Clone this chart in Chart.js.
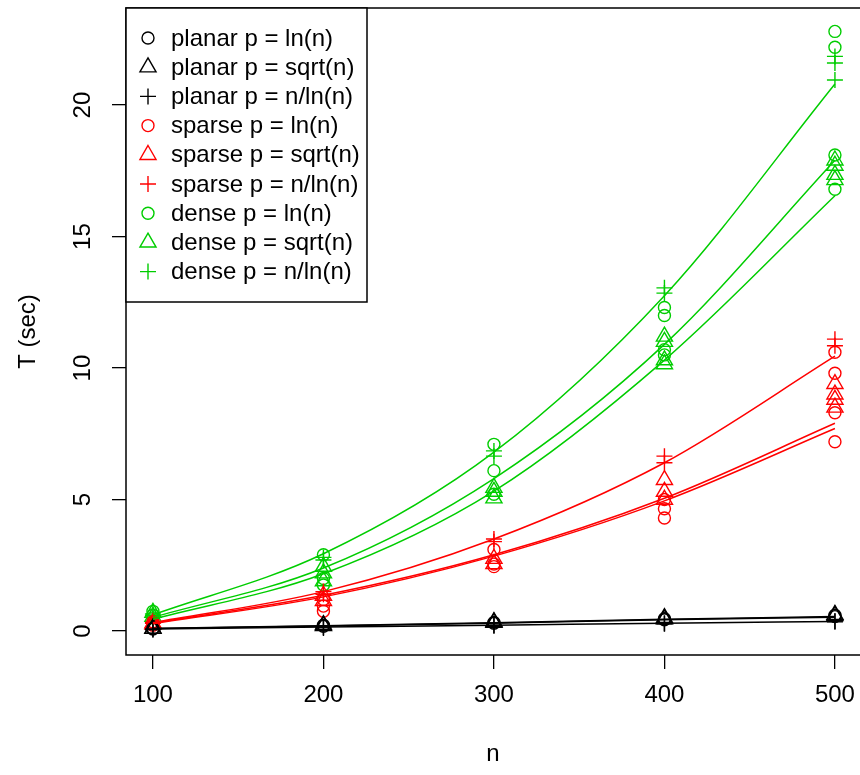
<!DOCTYPE html>
<html>
<head>
<meta charset="utf-8">
<script src="https://cdn.jsdelivr.net/npm/chart.js@4.4.1/dist/chart.umd.min.js"></script>
<style>
  html, body { margin: 0; padding: 0; background: #fff; overflow: hidden; }
  #wrap { width: 860px; height: 775px; }
</style>
</head>
<body>
<div id="wrap"><canvas id="timeChart" width="860" height="775"></canvas></div>
<script>
// problem size n and axis ticks
const nValues = [100, 200, 300, 400, 500];
const xTicks = [100, 200, 300, 400, 500];
const yTicks = [0, 5, 10, 15, 20];

// measured times T (sec): one list of repeated runs per n
const planarLn   = [[0.10, 0.08], [0.22, 0.18], [0.33, 0.30], [0.47, 0.43], [0.60, 0.55]];
const planarSqrt = [[0.10, 0.09], [0.23, 0.20], [0.35, 0.32], [0.50, 0.45], [0.62, 0.58]];
const planarNln  = [[0.05, 0.08], [0.15, 0.12], [0.22, 0.20], [0.30, 0.28], [0.38, 0.35]];

const sparseLn   = [[0.35, 0.28, 0.22], [1.20, 0.95, 0.75], [3.10, 2.55, 2.45], [5.00, 4.65, 4.30], [10.6, 9.8, 8.3, 7.2]];
const sparseSqrt = [[0.30, 0.25], [1.35, 1.15], [2.75, 2.55], [5.75, 5.30, 5.00], [9.40, 9.00, 8.80, 8.50]];
const sparseNln  = [[0.33, 0.30], [1.50, 1.40], [3.50, 3.40], [6.65, 6.40], [11.10, 10.85]];

const denseLn    = [[0.75, 0.60, 0.50], [2.90, 2.00, 1.75], [7.10, 6.10, 5.20], [12.3, 12.0, 10.7, 10.5], [22.8, 22.2, 18.1, 16.8]];
const denseSqrt  = [[0.70, 0.55], [2.45, 2.20, 1.90], [5.45, 5.30, 5.05], [11.2, 11.0, 10.3, 10.15], [17.9, 17.7, 17.35, 17.15]];
const denseNln   = [[0.65, 0.58], [2.80, 2.70], [6.85, 6.65], [13.05, 12.85], [21.85, 21.6, 20.95]];

const fitPlanarLn   = [0.10, 0.20, 0.32, 0.45, 0.55];
const fitPlanarSqrt = [0.10, 0.19, 0.30, 0.43, 0.53];
const fitPlanarNln  = [0.08, 0.15, 0.22, 0.30, 0.36];
const fitSparseLn   = [0.28, 1.30, 2.85, 4.95, 7.70];
const fitSparseSqrt = [0.30, 1.36, 2.90, 5.05, 7.90];
const fitSparseNln  = [0.32, 1.50, 3.50, 6.40, 10.45];
const fitDenseLn    = [0.45, 2.18, 5.32, 10.30, 16.55];
const fitDenseSqrt  = [0.52, 2.40, 5.80, 10.90, 17.90];
const fitDenseNln   = [0.62, 2.94, 6.80, 12.75, 20.80];

const BLACK = '#000000', RED = '#ff0000', GREEN = '#00cd00';
const FONT = "'Liberation Sans', Arial, Helvetica, sans-serif";

// point style per p choice
const shapes = {
    ln:   { pointStyle: 'circle',   radius: 6 },
    sqrt: { pointStyle: 'triangle', radius: 9.3 },
    nln:  { pointStyle: 'cross',    radius: 8 }
};

const series = [
    { label: 'planar p = ln(n)',    reps: planarLn,   fit: fitPlanarLn,   color: BLACK, shape: 'ln' },
    { label: 'planar p = sqrt(n)',  reps: planarSqrt, fit: fitPlanarSqrt, color: BLACK, shape: 'sqrt' },
    { label: 'planar p = n/ln(n)',  reps: planarNln,  fit: fitPlanarNln,  color: BLACK, shape: 'nln' },
    { label: 'sparse p = ln(n)',    reps: sparseLn,   fit: fitSparseLn,   color: RED,   shape: 'ln' },
    { label: 'sparse p = sqrt(n)',  reps: sparseSqrt, fit: fitSparseSqrt, color: RED,   shape: 'sqrt' },
    { label: 'sparse p = n/ln(n)',  reps: sparseNln,  fit: fitSparseNln,  color: RED,   shape: 'nln' },
    { label: 'dense p = ln(n)',     reps: denseLn,    fit: fitDenseLn,    color: GREEN, shape: 'ln' },
    { label: 'dense p = sqrt(n)',   reps: denseSqrt,  fit: fitDenseSqrt,  color: GREEN, shape: 'sqrt' },
    { label: 'dense p = n/ln(n)',   reps: denseNln,   fit: fitDenseNln,   color: GREEN, shape: 'nln' }
];

const datasets = [];
series.forEach(s => {
    datasets.push({
        label: s.label,
        data: nValues.flatMap((n, i) => s.reps[i].map(v => ({ x: n, y: v }))),
        showLine: false,
        pointStyle: shapes[s.shape].pointStyle,
        pointRadius: shapes[s.shape].radius,
        pointBorderWidth: 1.4,
        borderColor: s.color,
        backgroundColor: 'rgba(0,0,0,0)',
        order: 2
    });
    datasets.push({
        label: s.label + ' fit',
        data: nValues.map((n, i) => ({ x: n, y: s.fit[i] })),
        showLine: true,
        pointRadius: 0,
        borderWidth: 1.5,
        borderColor: s.color,
        cubicInterpolationMode: 'monotone',
        order: 1
    });
});

// no extra room for tick labels: keep plot box where the original has it
function noPad(sc) {
    sc.paddingTop = 0; sc.paddingBottom = 0; sc.paddingLeft = 0; sc.paddingRight = 0;
}

// box round the plot (open on the right, like the original) and the legend
const frame = {
    id: 'frame',
    afterDraw(chart) {
        const { ctx, chartArea: a } = chart;
        ctx.save();
        ctx.strokeStyle = '#000';
        ctx.lineWidth = 1.5;
        ctx.beginPath();
        ctx.moveTo(a.right + 2, a.top);
        ctx.lineTo(a.left, a.top);
        ctx.lineTo(a.left, a.bottom);
        ctx.lineTo(a.right + 2, a.bottom);
        ctx.stroke();

        // legend
        const bx = a.left, by = a.top, bw = 241, bh = 294;
        ctx.fillStyle = '#fff';
        ctx.fillRect(bx, by, bw, bh);
        ctx.strokeRect(bx, by, bw, bh);
        ctx.font = '24px ' + FONT;
        ctx.textBaseline = 'middle';
        ctx.textAlign = 'left';
        series.forEach((s, i) => {
            const y = by + 30 + i * 29.2;
            ctx.strokeStyle = s.color;
            ctx.fillStyle = 'rgba(0,0,0,0)';
            ctx.lineWidth = 1.4;
            const sh = shapes[s.shape];
            if (Chart.helpers && Chart.helpers.drawPoint) {
                Chart.helpers.drawPoint(ctx, { pointStyle: sh.pointStyle, radius: sh.radius, rotation: 0, borderWidth: 1.4 }, bx + 22, y);
            }
            ctx.fillStyle = '#000';
            ctx.fillText(s.label, bx + 45, y + 1);
        });
        ctx.restore();
    }
};

new Chart(document.getElementById('timeChart'), {
    type: 'scatter',
    data: { datasets },
    options: {
        responsive: false,
        animation: false,
        events: [],
        layout: { autoPadding: false, padding: { top: 8, left: 0, right: 0, bottom: 0 } },
        plugins: { legend: { display: false }, tooltip: { enabled: false } },
        scales: {
            x: {
                type: 'linear',
                min: 84.2,
                max: 514.7,
                afterBuildTicks: sc => { sc.ticks = xTicks.map(v => ({ value: v })); },
                afterFit: sc => { sc.height = 120; noPad(sc); },
                grid: { drawOnChartArea: false, drawTicks: true, tickLength: 14, color: '#000', lineWidth: 1.3 },
                border: { display: false },
                ticks: { color: '#000', padding: 12, font: { family: FONT, size: 24 }, maxRotation: 0 },
                title: { display: true, text: 'n', color: '#000', font: { family: FONT, size: 24 }, padding: { top: 0, bottom: 6 } }
            },
            y: {
                type: 'linear',
                min: -0.91,
                max: 23.69,
                afterBuildTicks: sc => { sc.ticks = yTicks.map(v => ({ value: v })); },
                afterFit: sc => { sc.width = 126; noPad(sc); },
                grid: { drawOnChartArea: false, drawTicks: true, tickLength: 14, color: '#000', lineWidth: 1.3 },
                border: { display: false },
                ticks: { color: '#000', padding: 15, crossAlign: 'center', minRotation: 90, maxRotation: 90, font: { family: FONT, size: 24 } },
                title: { display: true, text: 'T (sec)', color: '#000', font: { family: FONT, size: 24 }, padding: { top: 14, bottom: 0 } }
            }
        }
    },
    plugins: [frame]
});
</script>
</body>
</html>
